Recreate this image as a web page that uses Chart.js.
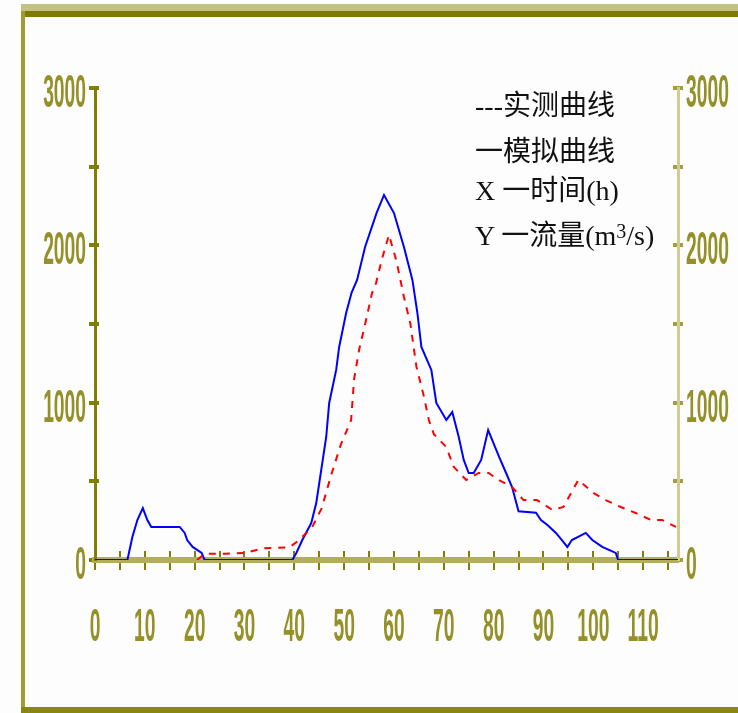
<!DOCTYPE html>
<html>
<head>
<meta charset="utf-8">
<script src="https://cdn.jsdelivr.net/npm/chart.js@4"></script>
<style>
html,body{margin:0;padding:0;background:#fdfdfd;width:738px;height:713px;overflow:hidden;}
#wrap{position:relative;width:738px;height:713px;}
#c{position:absolute;left:0;top:0;}
.band{position:absolute;}
.leg{position:absolute;left:475px;font-family:"Liberation Serif","Noto Sans CJK SC",serif;font-size:28px;color:#111;white-space:nowrap;line-height:1;}
</style>
</head>
<body>
<div id="wrap">
<div class="band" style="left:21px;top:4px;width:717px;height:7px;background:#c3c283"></div>
<div class="band" style="left:21px;top:11px;width:717px;height:6px;background:#7f7b00"></div>
<div class="band" style="left:21px;top:11px;width:4px;height:702px;background:#a29c2e"></div>
<div class="band" style="left:21px;top:707px;width:717px;height:6px;background:#8a8612"></div>
<canvas id="c" width="738" height="713"></canvas>
<div class="leg" style="top:92px">---实测曲线</div>
<div class="leg" style="top:138px">一模拟曲线</div>
<div class="leg" style="top:177px">X 一时间(h)</div>
<div class="leg" style="top:221px">Y 一流量(m<span style="font-size:20px;vertical-align:7px">3</span>/s)</div>
</div>
<script>
// simulated discharge (blue solid)
const simHours = [0, 6.5, 7.5, 8.5, 9.6, 10.5, 11.3, 17, 18, 18.5, 19.6, 21.4, 22, 39.6, 40.4, 41.6, 43.4, 44.4, 45.4, 46.4, 47, 48.4, 49, 50.4, 51.5, 52.6, 54.2, 56.5, 58, 60, 62, 63.7, 64.7, 65.5, 67.5, 68.5, 70.5, 71.7, 73, 74, 75, 76, 77.5, 78.9, 81.1, 82.5, 83.7, 85, 88.5, 89.5, 90.8, 92.5, 93.7, 94.8, 95.7, 98.5, 99.8, 101.8, 104.5, 105, 117];
const simFlow = [0, 0, 146, 254, 330, 254, 210, 210, 172, 127, 83, 45, 0, 0, 45, 127, 235, 362, 572, 782, 998, 1208, 1354, 1570, 1700, 1780, 1990, 2205, 2320, 2205, 1990, 1780, 1570, 1354, 1208, 998, 890, 940, 782, 636, 553, 553, 636, 826, 655, 553, 464, 310, 300, 254, 222, 172, 127, 83, 127, 172, 127, 83, 45, 0, 0];
// observed discharge (red dashed)
const obsHours = [20.5, 22, 26, 30, 34, 39, 41, 43.6, 45.5, 47.4, 49.3, 51.4, 52, 53, 54.4, 55.6, 56.4, 57.7, 59, 60.5, 62, 63.3, 64.5, 66, 67, 68, 70.5, 72, 74.5, 77, 79, 81, 83.7, 86, 88.7, 91.8, 94, 97, 100, 102.5, 105.5, 108.5, 111.6, 113.8, 116.6];
const obsFlow = [0, 40, 40, 45, 75, 80, 127, 210, 330, 540, 730, 890, 1150, 1335, 1526, 1697, 1760, 1926, 2066, 1900, 1672, 1500, 1230, 1040, 890, 800, 718, 591, 509, 553, 553, 509, 464, 381, 381, 318, 337, 509, 426, 381, 337, 299, 254, 254, 210];
// axes
const xTickValues = [0,5,10,15,20,25,30,35,40,45,50,55,60,65,70,75,80,85,90,95,100,105,110,115];
const xTickLabels = ['0','10','20','30','40','50','60','70','80','90','100','110'];
const yTickValues = [0,500,1000,1500,2000,2500,3000];
const yTickLabels = ['0','1000','2000','3000'];
const xMax = 117, yMax = 3000;

const canvas = document.getElementById('c');
const ctx = canvas.getContext('2d');
// narrow, tall tick-label glyphs like the original bitmap font
const origFill = ctx.fillText.bind(ctx);
ctx.fillText = function(t, x, y) {
  this.save(); this.translate(x, y); this.scale(0.41, 1); origFill(t, 0, 0); this.restore();
};

const olive = '#808000';
const labelFont = {family: 'Liberation Sans, Arial, sans-serif', size: 47, weight: 'bold'};
const labelColor = '#959028';
const xLabel = v => (v % 10 === 0 ? (xTickLabels[v / 10] ?? '') : '');
const yLabel = v => (v % 1000 === 0 ? (yTickLabels[v / 1000] ?? '') : '');
const setX = s => { s.ticks = xTickValues.map(v => ({value: v})); };
const setY = s => { s.ticks = yTickValues.map(v => ({value: v})); };

new Chart(ctx, {
  type: 'line',
  data: {
    datasets: [
      {label: '实测曲线', data: obsHours.map((h, i) => ({x: h, y: obsFlow[i]})), borderColor: '#ff0000', borderWidth: 2, borderDash: [7, 7], pointRadius: 0, fill: false, xAxisID: 'x', yAxisID: 'y'},
      {label: '模拟曲线', data: simHours.map((h, i) => ({x: h, y: simFlow[i]})), borderColor: '#0000ff', borderWidth: 2, pointRadius: 0, fill: false, xAxisID: 'x', yAxisID: 'y'}
    ]
  },
  options: {
    responsive: false, animation: false, devicePixelRatio: 1,
    layout: {padding: {top: 88, left: 0, right: 0, bottom: 0}},
    plugins: {legend: {display: false}, tooltip: {enabled: false}},
    elements: {line: {tension: 0}, point: {radius: 0}},
    scales: {
      x: {
        type: 'linear', min: 0, max: xMax, position: 'bottom',
        afterFit: s => { s.height = 153; }, afterBuildTicks: setX,
        border: {display: true, color: '#b3ae5a', width: 6},
        grid: {display: true, drawOnChartArea: false, drawTicks: false},
        ticks: {autoSkip: false, maxRotation: 0, minRotation: 0, padding: 40, color: labelColor, font: labelFont, callback: xLabel}
      },
      xt: {
        type: 'linear', min: 0, max: xMax, position: {y: 0}, z: 1, afterBuildTicks: setX,
        border: {display: true, color: 'rgba(0,0,0,0)', width: 20},
        grid: {drawOnChartArea: false, drawTicks: true, tickLength: -19, color: olive, lineWidth: 2},
        ticks: {display: false}
      },
      y: {
        type: 'linear', min: 0, max: yMax, position: 'left',
        afterFit: s => { s.width = 95; }, afterBuildTicks: setY,
        border: {display: true, color: olive, width: 3},
        grid: {drawOnChartArea: false, drawTicks: false},
        ticks: {autoSkip: false, padding: 9, labelOffset: 6, color: labelColor, font: labelFont, callback: yLabel}
      },
      yt: {
        type: 'linear', min: 0, max: yMax, position: {x: 0}, z: 1, afterBuildTicks: setY,
        border: {display: true, color: 'rgba(0,0,0,0)', width: 12},
        grid: {drawOnChartArea: false, drawTicks: true, tickLength: -10, color: olive, lineWidth: 4},
        ticks: {display: false}
      },
      y2: {
        type: 'linear', min: 0, max: yMax, position: 'right',
        afterFit: s => { s.width = 60; }, afterBuildTicks: setY,
        border: {display: true, color: '#d0cc98', width: 3},
        grid: {drawOnChartArea: false, drawTicks: false},
        ticks: {autoSkip: false, padding: 8, labelOffset: 6, color: labelColor, font: labelFont, callback: yLabel}
      },
      yt2: {
        type: 'linear', min: 0, max: yMax, position: {x: xMax}, z: 1, afterBuildTicks: setY,
        border: {display: true, color: 'rgba(0,0,0,0)', width: 10},
        grid: {drawOnChartArea: false, drawTicks: true, tickLength: -10, color: '#a39d3a', lineWidth: 4},
        ticks: {display: false}
      }
    }
  }
});
</script>
</body>
</html>
